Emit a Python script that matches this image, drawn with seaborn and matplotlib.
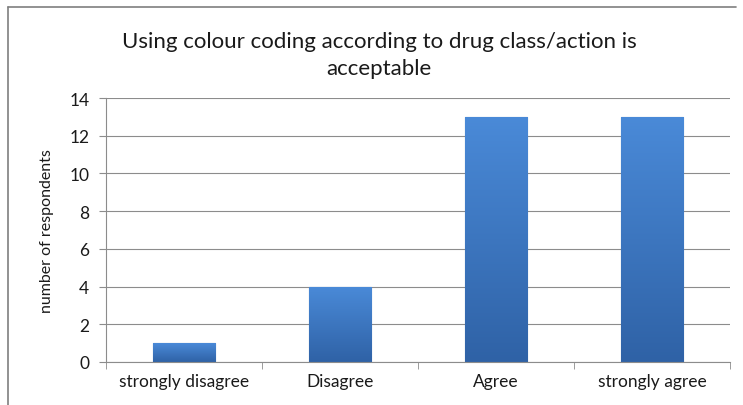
import numpy as np
import pandas as pd
import matplotlib.pyplot as plt
import matplotlib.lines as mlines
import seaborn as sns

categories = ['strongly disagree', 'Disagree', 'Agree', 'strongly agree']
respondents = [1, 4, 13, 13]
y_ticks = [0, 2, 4, 6, 8, 10, 12, 14]

df = pd.DataFrame({'response': categories, 'count': respondents})

sns.set_style("white")
plt.rcParams['font.family'] = ['Lato', 'DejaVu Sans']

fig = plt.figure(figsize=(7.43, 4.06), dpi=100)
ax = fig.add_axes([0.1427, 0.106, 0.8398, 0.65])

sns.barplot(data=df, x='response', y='count', color='#3d78c6', width=0.4,
            edgecolor='#2f5f9e', linewidth=0.8, saturation=1, ax=ax)

# vertical gradient on the bars, lighter at the top
grad = np.linspace(0, 1, 256).reshape(-1, 1)
cmap = sns.blend_palette(['#2f62a6', '#4a8ad8'], as_cmap=True)
for patch in ax.patches:
    x0, y0 = patch.get_x(), patch.get_y()
    w, h = patch.get_width(), patch.get_height()
    im = ax.imshow(grad, cmap=cmap, aspect='auto', origin='lower',
                   extent=[x0, x0 + w, y0, y0 + h], zorder=patch.get_zorder() + 0.1)
    im.set_clip_path(patch)

ax.set_xlim(-0.5, len(categories) - 0.5)
ax.set_ylim(0, 14)
ax.set_yticks(y_ticks)
ax.yaxis.grid(True, color='#8c8c8c', linewidth=0.8)
ax.set_axisbelow(True)

for side in ['top', 'right']:
    ax.spines[side].set_visible(False)
for side in ['left', 'bottom']:
    ax.spines[side].set_color('#8c8c8c')
    ax.spines[side].set_linewidth(0.8)

# tick marks between categories, as in the original
ax.set_xticks(np.arange(len(categories) + 1) - 0.5, minor=True)
ax.tick_params(axis='x', which='major', length=0, pad=8, labelsize=12.5, colors='#1a1a1a')
ax.tick_params(axis='x', which='minor', length=5, color='#8c8c8c', direction='out', bottom=True)
ax.tick_params(axis='y', length=5, color='#8c8c8c', direction='out', left=True,
               labelsize=12.5, pad=7, colors='#1a1a1a')

ax.set_xlabel('')
ax.set_ylabel('number of respondents', fontsize=11.5, labelpad=11, color='#1a1a1a')

fig.suptitle('Using colour coding according to drug class/action is\nacceptable',
             x=0.51, y=0.92, fontsize=16, color='#1a1a1a', linespacing=1.4)

# chart frame (left and top edges visible)
fig.add_artist(mlines.Line2D([8 / 743, 8 / 743], [0, 1 - 8 / 406], color='#7f7f7f', linewidth=1.2))
fig.add_artist(mlines.Line2D([8 / 743, 736 / 743], [1 - 8 / 406, 1 - 8 / 406], color='#7f7f7f', linewidth=1.2))

plt.savefig('out.png', dpi=100)
